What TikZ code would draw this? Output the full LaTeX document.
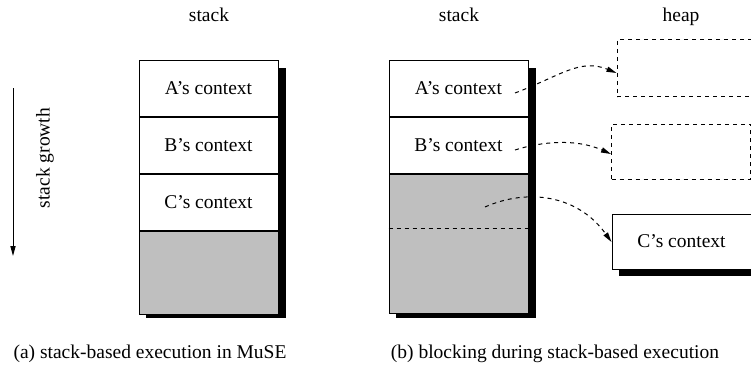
\documentclass[tikz,border=0pt]{standalone}
\usepackage{fontspec}
\setmainfont{Liberation Serif}
\usetikzlibrary{arrows.meta,positioning}
\tikzset{
  lbl/.style={font=\fontsize{9.75}{11.7}\selectfont, inner sep=0pt},
  cell/.style={lbl, draw, fill=white, minimum width=69.5pt, minimum height=28pt},
  freecell/.style={cell, fill=black!25},
  heapbox/.style={cell, dash pattern=on 2pt off 2pt},
  shadowbox/.style={fill=black},
  link/.style={dash pattern=on 2pt off 2pt, -{Triangle[length=5pt,width=2.6pt]}}
}
\begin{document}
\begin{tikzpicture}[x=0.5pt, y=-0.5pt, line width=0.5pt]
\useasboundingbox (0,0) rectangle (751,375);

% titles
\node[lbl, anchor=base] (t1) at (209,21) {stack};
\node[lbl, anchor=base] (t2) at (459,21) {stack};
\node[lbl, anchor=base] (t3) at (681,21) {heap};

% growth arrow
\coordinate (g1) at (13,88);
\coordinate (g2) at (13,256);
\draw[-{Triangle[length=5pt,width=2.6pt]}] (g1) -- (g2);
\node[lbl, rotate=90] (gl) at (45,158) {stack growth};

% (a) stack
\fill[shadowbox] (146,68) rectangle (286,318);
\node[cell] (a1) at (208.5,88.5) {A's context};
\node[cell, below=0pt of a1] (a2) {B's context};
\node[cell, below=0pt of a2] (a3) {C's context};
\node[freecell, minimum height=41.5pt, below=0pt of a3] (a4) {};

% (b) stack
\fill[shadowbox] (396,68) rectangle (536,318);
\node[cell] (b1) at (458.5,88.5) {A's context};
\node[cell, below=0pt of b1] (b2) {B's context};
\node[freecell, minimum height=69.5pt, below=0pt of b2] (b3) {};
\draw[dash pattern=on 2pt off 2pt] (b3.west |- 0,228) -- (b3.east |- 0,228);

% heap
\node[heapbox, minimum height=28.5pt] (h1) at (686.5,68.3) {};
\node[heapbox, minimum height=27.5pt] (h2) at (681,151.5) {};
\fill[shadowbox] (619,221) rectangle (758,276);
\node[cell, minimum height=27.5pt] (h3) at (681.5,241.5) {C's context};

% links
\coordinate (s1) at (515,93);
\coordinate (s2) at (515,150);
\coordinate (s3) at (485,207);
\draw[link] (s1) .. controls (560,76) and (580,58) .. (h1.west |- 0,73);
\draw[link] (s2) .. controls (540,142) and (575,138) .. (h2.west |- 0,154);
\draw[link] (s3) .. controls (528,188) and (578,195) .. (h3.west |- 0,242);

% captions
\node[lbl, anchor=base] (ca) at (150,358) {(a) stack-based execution in MuSE};
\node[lbl, anchor=base] (cb) at (555,358) {(b) blocking during stack-based execution};
\end{tikzpicture}
\end{document}
